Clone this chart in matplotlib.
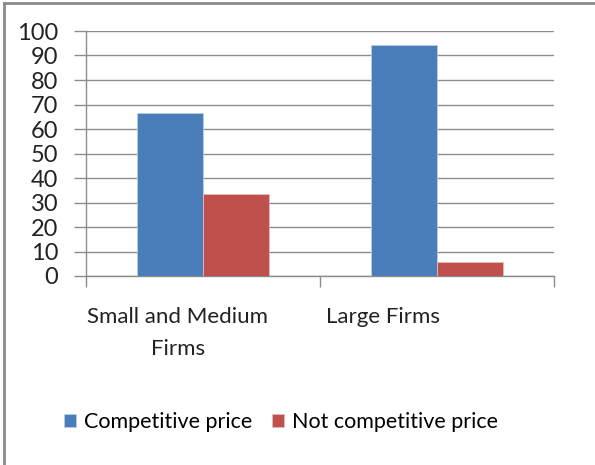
import matplotlib
matplotlib.use("Agg")
import matplotlib.pyplot as plt
from matplotlib.lines import Line2D
import numpy as np

categories = ["Small and Medium\nFirms", "Large Firms"]
competitive = [66.7, 94.4]
not_competitive = [33.3, 5.6]
series_names = ["Competitive price", "Not competitive price"]

blue = "#4A7EBB"
red = "#C0504D"
grid = "#8C8C8C"

plt.rcParams['font.family'] = ['Lato', 'DejaVu Sans']

fig = plt.figure(figsize=(5.95, 4.65), dpi=100)
ax = fig.add_axes([86 / 595, 1 - 276 / 465, 468 / 595, 245 / 465])

x = np.arange(len(categories))
w = 0.283
ax.bar(x - w / 2, competitive, w, color=blue, edgecolor="#B9CDE5", linewidth=0.6,
       label=series_names[0], zorder=3)
ax.bar(x + w / 2, not_competitive, w, color=red, edgecolor="#E6B9B8", linewidth=0.6,
       label=series_names[1], zorder=3)

ax.set_xlim(-0.5, len(categories) - 0.5)
ax.set_ylim(0, 100)
ax.set_yticks(np.arange(0, 101, 10))
ax.yaxis.grid(True, color=grid, linewidth=1.0, zorder=0)
ax.tick_params(axis="y", direction="out", length=9, width=1, color=grid,
               labelsize=17, pad=11, labelcolor="#222222")

# category boundaries as ticks, labels on minor ticks
ax.set_xticks(np.arange(-0.5, len(categories), 1.0))
ax.set_xticklabels([])
ax.tick_params(axis="x", which="major", direction="out", length=8, width=1, color=grid)
label_offsets = [-0.107, -0.231]
ax.set_xticks(x + np.array(label_offsets), minor=True)
ax.set_xticklabels(categories, minor=True, fontsize=16, color="#222222", linespacing=1.8)
ax.tick_params(axis="x", which="minor", length=0, pad=22)

for side in ["top", "right"]:
    ax.spines[side].set_visible(False)
for side in ["left", "bottom"]:
    ax.spines[side].set_color(grid)
    ax.spines[side].set_linewidth(1)

ax.legend(loc="center", bbox_to_anchor=(281 / 595, 1 - 422 / 465),
          bbox_transform=fig.transFigure, ncol=2, frameon=False, fontsize=15.5,
          handlelength=0.55, handleheight=0.55, handletextpad=0.4, columnspacing=0.9)

# chart-area border (left and top only visible)
fig.add_artist(Line2D([4 / 595, 4 / 595], [0, 1 - 3 / 465], transform=fig.transFigure,
                      color="#8A8A8A", linewidth=2))
fig.add_artist(Line2D([4 / 595, 1], [1 - 3 / 465, 1 - 3 / 465], transform=fig.transFigure,
                      color="#8A8A8A", linewidth=2))

fig.savefig("out.png", dpi=100)
